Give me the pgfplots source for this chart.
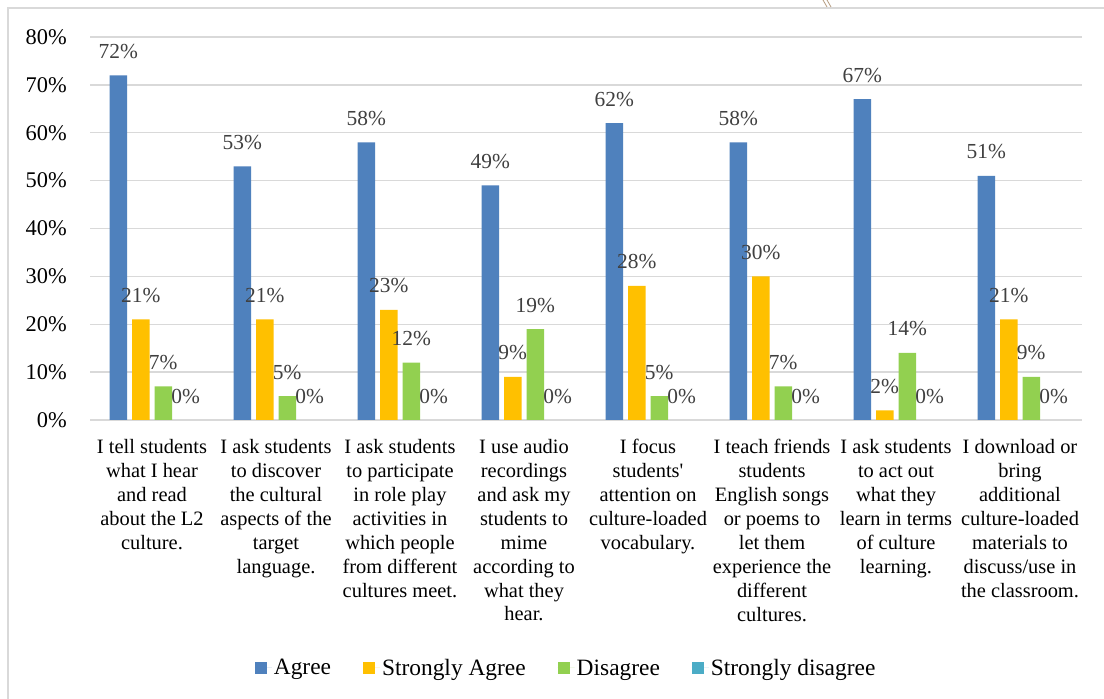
\documentclass[border=0pt]{standalone}
\usepackage{fontspec}
\setmainfont{Liberation Serif}
\newfontfamily\nomap{Liberation Serif}
\usepackage{pgfplots}
\pgfplotsset{compat=1.18}
\definecolor{cA}{HTML}{4F81BD}
\definecolor{cB}{HTML}{FFC000}
\definecolor{cC}{HTML}{92D050}
\definecolor{cD}{HTML}{4BACC6}
\definecolor{gridc}{HTML}{D9D9D9}
\definecolor{labc}{HTML}{404040}
\pgfplotsset{mylegend/.style={legend image code/.code={\fill[##1,draw=none] (0bp,-6bp) rectangle (12bp,6bp);\path (0bp,0bp) -- (17bp,0bp);}}}
\begin{document}
\begin{tikzpicture}
\useasboundingbox (0,0) rectangle (1104bp,699bp);
\fill[white] (0,0) rectangle (1104bp,699bp);
\draw[gridc, line width=1.5bp] (8bp,0) -- (8bp,691bp) -- (1104bp,691bp);
\draw[brown!70!black!60, line width=0.8bp] (823bp,699bp) -- (827bp,692bp);
\draw[brown!70!black!60, line width=0.8bp] (827bp,699bp) -- (831bp,692bp);
\begin{axis}[
  at={(90bp,279bp)}, anchor=south west,
  width=992bp, height=383bp, scale only axis,
  ybar=5bp, bar width=17.5bp,
  xmin=-0.5, xmax=7.5, ymin=0, ymax=80,
  xtick={0,...,7},
  xticklabels={
    {I tell students\\what I hear\\and read\\about the L2\\culture.},
    {I ask students\\to discover\\the cultural\\aspects of the\\target\\language.},
    {I ask students\\to participate\\in role play\\activities in\\which people\\from different\\cultures meet.},
    {I use audio\\recordings\\and ask my\\students to\\mime\\according to\\what they\\hear.},
    {I focus\\students{\nomap'}\\attention on\\culture-loaded\\vocabulary.},
    {I teach friends\\students\\English songs\\or poems to\\let them\\experience the\\different\\cultures.},
    {I ask students\\to act out\\what they\\learn in terms\\of culture\\learning.},
    {I download or\\bring\\additional\\culture-loaded\\materials to\\discuss/use in\\the classroom.}},
  ytick={0,10,...,80},
  yticklabel={\pgfmathprintnumber{\tick}\%},
  /pgf/number format/assume math mode=true,
  ymajorgrids, grid style={color=gridc, line width=1.4bp},
  axis line style={draw=none},
  tick style={draw=none},
  xticklabel style={font=\fontsize{20.5}{24}\selectfont, align=center, anchor=north, inner sep=0pt, yshift=-15bp, text=black},
  yticklabel style={font=\fontsize{22.5}{27}\selectfont, anchor=east, inner sep=0pt, xshift=-23bp, text=black},
  point meta=rawy,
  nodes near coords={\pgfmathprintnumber[fixed,precision=0]{\pgfplotspointmeta}\%},
  every node near coord/.append style={font=\fontsize{21.5}{25}\selectfont, text=labc, anchor=base, yshift=17bp, inner sep=0pt},
  legend columns=4,
  legend style={at={(0.48,-0.6475)}, anchor=center, draw=none, fill=none,
    font=\fontsize{23.5}{27}\selectfont, inner sep=0pt,
    /tikz/every even column/.append style={column sep=30bp}},
]
\addplot[fill=cA, draw=none, mylegend] coordinates {(0,72) (1,53) (2,58) (3,49) (4,62) (5,58) (6,67) (7,51)};
\addplot[fill=cB, draw=none, mylegend] coordinates {(0,21) (1,21) (2,23) (3,9) (4,28) (5,30) (6,2) (7,21)};
\addplot[fill=cC, draw=none, mylegend] coordinates {(0,7) (1,5) (2,12) (3,19) (4,5) (5,7) (6,14) (7,9)};
\addplot[fill=cD, draw=none, mylegend] coordinates {(0,0) (1,0) (2,0) (3,0) (4,0) (5,0) (6,0) (7,0)};
\legend{Agree, Strongly Agree, Disagree, Strongly disagree}
\end{axis}
\end{tikzpicture}
\end{document}
